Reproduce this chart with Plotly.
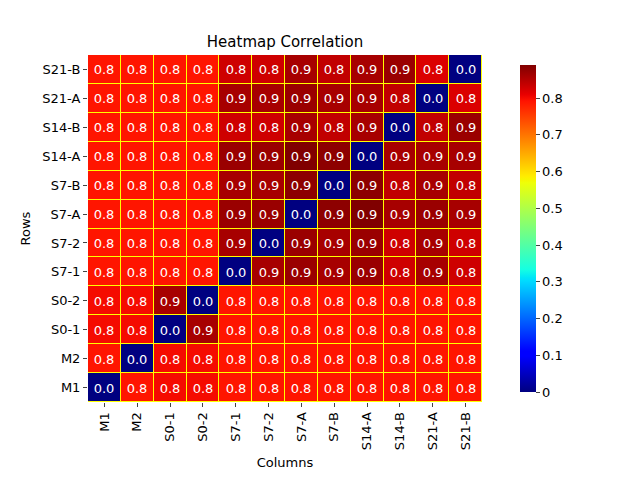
import plotly.graph_objects as go

labels = ["M1","M2","S0-1","S0-2","S7-1","S7-2","S7-A","S7-B","S14-A","S14-B","S21-A","S21-B"]
# rows in order M1 (bottom) ... S21-B (top)
z = [
 [0.00,0.79,0.80,0.80,0.79,0.79,0.79,0.79,0.79,0.79,0.79,0.79],
 [0.79,0.00,0.80,0.80,0.79,0.79,0.79,0.79,0.79,0.79,0.79,0.79],
 [0.80,0.80,0.00,0.86,0.79,0.79,0.79,0.79,0.79,0.79,0.79,0.79],
 [0.80,0.80,0.86,0.00,0.79,0.79,0.79,0.79,0.79,0.79,0.79,0.79],
 [0.79,0.79,0.79,0.79,0.00,0.86,0.87,0.86,0.87,0.83,0.86,0.83],
 [0.79,0.79,0.79,0.79,0.86,0.00,0.87,0.86,0.87,0.83,0.86,0.83],
 [0.79,0.79,0.79,0.79,0.87,0.87,0.00,0.88,0.89,0.86,0.87,0.86],
 [0.79,0.79,0.79,0.79,0.86,0.86,0.88,0.00,0.88,0.84,0.86,0.84],
 [0.79,0.79,0.79,0.79,0.87,0.87,0.89,0.88,0.00,0.86,0.86,0.86],
 [0.79,0.79,0.79,0.79,0.83,0.83,0.86,0.84,0.86,0.00,0.84,0.87],
 [0.79,0.79,0.79,0.79,0.86,0.86,0.87,0.86,0.86,0.84,0.00,0.82],
 [0.79,0.79,0.79,0.79,0.83,0.83,0.86,0.84,0.86,0.87,0.82,0.00],
]

jet = [[0,"rgb(0,0,128)"],[0.11,"rgb(0,0,255)"],[0.125,"rgb(0,0,255)"],[0.34,"rgb(0,219,255)"],
       [0.35,"rgb(0,230,247)"],[0.375,"rgb(21,255,226)"],[0.64,"rgb(239,255,8)"],[0.65,"rgb(247,245,0)"],
       [0.66,"rgb(255,236,0)"],[0.89,"rgb(255,19,0)"],[0.91,"rgb(232,0,0)"],[1,"rgb(128,0,0)"]]

text = [[f"{v:.1f}" for v in row] for row in z]
fig = go.Figure(go.Heatmap(
    z=z, x=labels, y=labels, colorscale=jet, zmin=0, zmax=0.89,
    text=text, texttemplate="%{text}", textfont=dict(color="white", size=13),
    xgap=1, ygap=1,
    colorbar=dict(x=1.071, xanchor="left", y=0, yanchor="bottom", len=1, lenmode="fraction",
                  thickness=16, outlinewidth=0, tickvals=[0,0.1,0.2,0.3,0.4,0.5,0.6,0.7,0.8],
                  ticks="outside", ticklen=4, tickfont=dict(size=13)),
))
fig.update_layout(
    width=640, height=480, margin=dict(l=80, r=166, t=47, b=86, autoexpand=False),
    paper_bgcolor="white", plot_bgcolor="yellow",
    font=dict(family="DejaVu Sans", color="black", size=13),
    title=dict(text="Heatmap Correlation", x=(80+474)/2/640, xanchor="center", y=1-34/480, yanchor="middle", font=dict(size=15)),
    xaxis=dict(title=dict(text="Columns", standoff=8, font=dict(size=13)), tickangle=-90, ticks="outside", ticklen=4, showgrid=False, automargin=False),
    yaxis=dict(title=dict(text="Rows", standoff=8, font=dict(size=13)), ticks="outside", ticklen=4, showgrid=False, automargin=False),
)
fig.write_html("out.html")
